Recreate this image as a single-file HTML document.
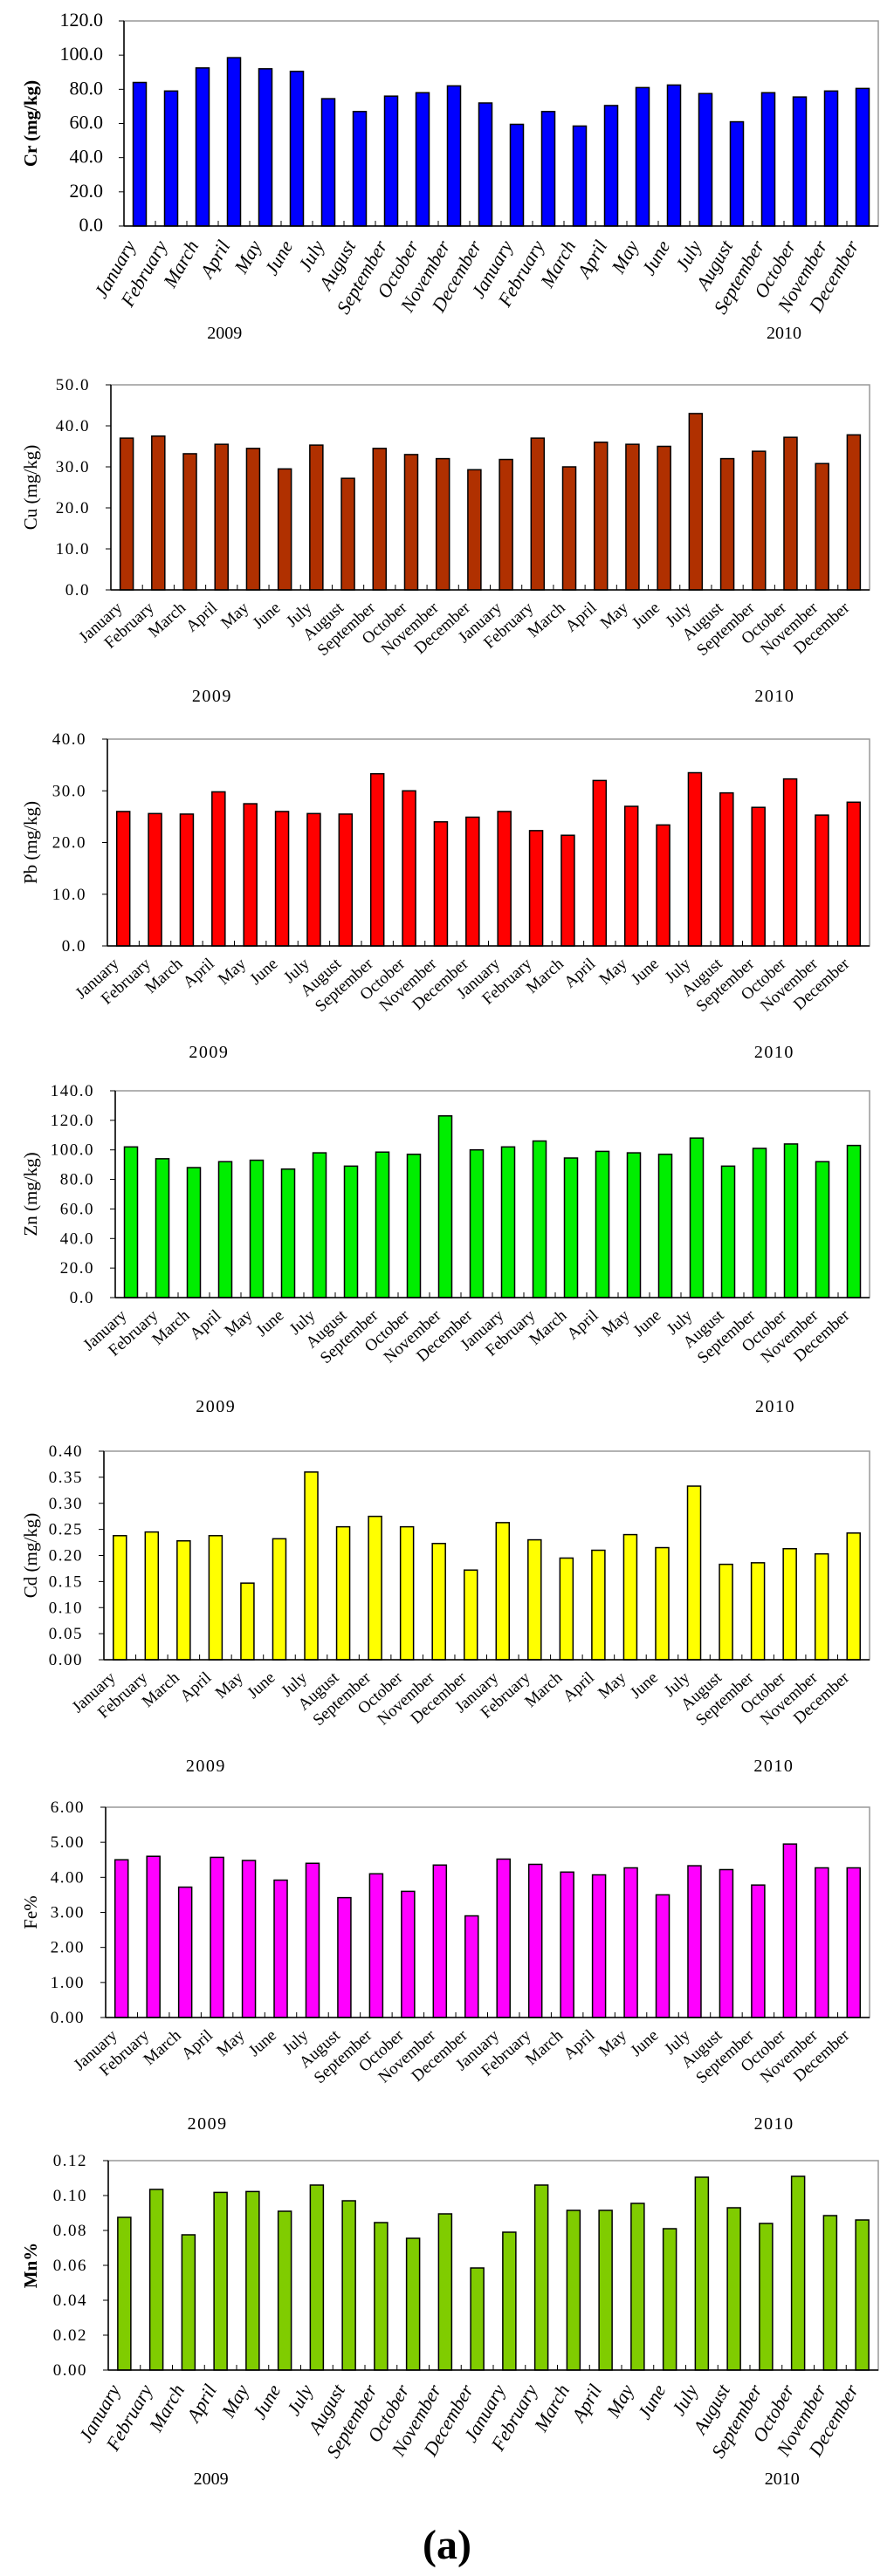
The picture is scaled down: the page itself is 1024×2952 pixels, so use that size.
<!DOCTYPE html>
<html><head><meta charset="utf-8">
<style>
html,body{margin:0;padding:0;background:#fff;}
svg{display:block;}
text{font-family:"Liberation Serif",serif;fill:#000;}
</style></head>
<body>
<svg id="fig" width="1024" height="2952" viewBox="0 0 1024 2952" xmlns="http://www.w3.org/2000/svg">
<text x="512" y="2932" text-anchor="middle" font-size="48" font-weight="bold">(a)</text>
</svg>
<script>
const months = ["January","February","March","April","May","June","July","August","September","October","November","December"];
const categories = months.concat(months);
const years = ["2009","2010"];
const crValues = [84,79,92.5,98.5,92,90.5,74.5,67,76,78,82,72,59.5,67,58.5,70.5,81,82.5,77.5,61,78,75.5,79,80.5];
const cuValues = [37,37.5,33.2,35.5,34.5,29.5,35.3,27.2,34.5,33,32,29.3,31.8,37,30,36,35.5,35,43,32,33.8,37.2,30.8,37.8];
const pbValues = [26,25.6,25.5,29.8,27.5,26,25.6,25.5,33.3,30,24,24.9,26,22.3,21.4,32,27,23.4,33.5,29.6,26.8,32.3,25.3,27.8];
const znValues = [102,94,88,92,93,87,98,89,98.5,97,123,100,102,106,94.5,99,98,97,108,89,101,104,92,103];
const cdValues = [0.238,0.245,0.228,0.238,0.147,0.232,0.36,0.255,0.275,0.255,0.223,0.172,0.263,0.23,0.195,0.21,0.24,0.215,0.333,0.183,0.186,0.213,0.203,0.243];
const feValues = [4.5,4.6,3.72,4.57,4.48,3.92,4.4,3.42,4.1,3.6,4.35,2.9,4.52,4.37,4.15,4.07,4.27,3.5,4.33,4.22,3.78,4.95,4.27,4.27];
const mnValues = [0.0875,0.1035,0.0775,0.1018,0.1023,0.091,0.106,0.097,0.0845,0.0755,0.0895,0.0585,0.079,0.106,0.0915,0.0915,0.0955,0.081,0.1105,0.093,0.084,0.111,0.0885,0.086];
const crTicks = [0,20,40,60,80,100,120];
const cuTicks = [0,10,20,30,40,50];
const pbTicks = [0,10,20,30,40];
const znTicks = [0,20,40,60,80,100,120,140];
const cdTicks = [0,0.05,0.1,0.15,0.2,0.25,0.3,0.35,0.4];
const feTicks = [0,1,2,3,4,5,6];
const mnTicks = [0,0.02,0.04,0.06,0.08,0.1,0.12];

const NS="http://www.w3.org/2000/svg";
const svg=document.getElementById('fig');
function mk(tag,attrs,parent){const e=document.createElementNS(NS,tag);for(const k in attrs)e.setAttribute(k,attrs[k]);(parent||svg).appendChild(e);return e;}

const charts=[
 {key:'cr',label:'Cr (mg/kg)',vals:crValues,ticks:crTicks,dec:1,color:'#0000ff',top:24,bot:259,left:142,right:1006,year:388,rot:-60,italic:true,bold:true},
 {key:'cu',label:'Cu (mg/kg)',vals:cuValues,ticks:cuTicks,dec:1,color:'#b03000',top:441,bot:676,left:127,right:996,year:804,rot:-42,italic:false,bold:false},
 {key:'pb',label:'Pb (mg/kg)',vals:pbValues,ticks:pbTicks,dec:1,color:'#ff0000',top:847,bot:1084,left:123,right:996,year:1212,rot:-42,italic:false,bold:false},
 {key:'zn',label:'Zn (mg/kg)',vals:znValues,ticks:znTicks,dec:1,color:'#00ee00',top:1250,bot:1487,left:132,right:996,year:1618,rot:-42,italic:false,bold:false},
 {key:'cd',label:'Cd (mg/kg)',vals:cdValues,ticks:cdTicks,dec:2,color:'#ffff00',top:1663,bot:1902,left:119,right:996,year:2030,rot:-42,italic:false,bold:false},
 {key:'fe',label:'Fe%',vals:feValues,ticks:feTicks,dec:2,color:'#ff00ff',top:2071,bot:2312,left:121,right:996,year:2440,rot:-42,italic:false,bold:false},
 {key:'mn',label:'Mn%',vals:mnValues,ticks:mnTicks,dec:2,color:'#80cc00',top:2476,bot:2716,left:124,right:1006,year:2847,rot:-60,italic:true,bold:true}
];

charts.forEach(c=>{
  const g=mk('g',{});
  
  
  const n=categories.length;
  const step=(c.right-c.left)/n;
  const maxV=c.ticks[c.ticks.length-1];
  const y=v=>c.bot-(v/maxV)*(c.bot-c.top);
  const x=i=>c.left+step*(i+0.5);
  const fr=mk('rect',{x:c.left,y:c.top,width:c.right-c.left,height:c.bot-c.top,fill:'none',stroke:'#999','stroke-width':1.5},g);
  
  
  c.vals.forEach((v,i)=>{
    const b=mk('rect',{x:x(i)-7.5,y:y(v),width:15,height:c.bot-y(v),fill:c.color,stroke:'#000','stroke-width':1.5},g);
    
    
  });
  mk('line',{x1:c.left,y1:c.top,x2:c.left,y2:c.bot,stroke:'#000','stroke-width':1.5},g);
  mk('line',{x1:c.left,y1:c.bot,x2:c.right,y2:c.bot,stroke:'#000','stroke-width':1.5},g);
  for(let i=1;i<n;i++){mk('line',{x1:c.left+step*i,y1:c.bot,x2:c.left+step*i,y2:c.bot-6,stroke:'#000','stroke-width':1},g);}
  c.ticks.forEach(t=>{
    mk('line',{x1:c.left-6,y1:y(t),x2:c.left,y2:y(t),stroke:'#000','stroke-width':1},g);
    const tl=mk('text',{x:c.left-24,y:y(t)+6,'text-anchor':'end','font-size':c.key==='cr'?22:19,'letter-spacing':c.key==='cr'?0:1.5},g);
    tl.textContent=t.toFixed(c.dec);
    
    
  });
  const yc=(c.top+c.bot)/2;
  const yt=mk('text',{x:42,y:yc,'text-anchor':'middle','font-size':21,'font-weight':c.bold?'bold':'normal',transform:'rotate(-90 42 '+yc+')'},g);
  yt.textContent=c.label;
  
  
  categories.forEach((m,i)=>{
    const lx=x(i)-4, ly=c.bot+22;
    const t=mk('text',{x:lx,y:ly,'text-anchor':'end','font-size':c.italic?22:19,'font-style':c.italic?'italic':'normal',transform:'rotate('+c.rot+' '+lx+' '+ly+')'},g);
    t.textContent=m;
    
    
  });
  years.forEach((yr,k)=>{
    const t=mk('text',{x:k===0?c.left+step*3.2:c.left+step*21,y:c.year,'text-anchor':'middle','font-size':20,'letter-spacing':c.italic?0:1.5},g);
    t.textContent=yr;
    
    
  });
});
</script>
</body></html>
